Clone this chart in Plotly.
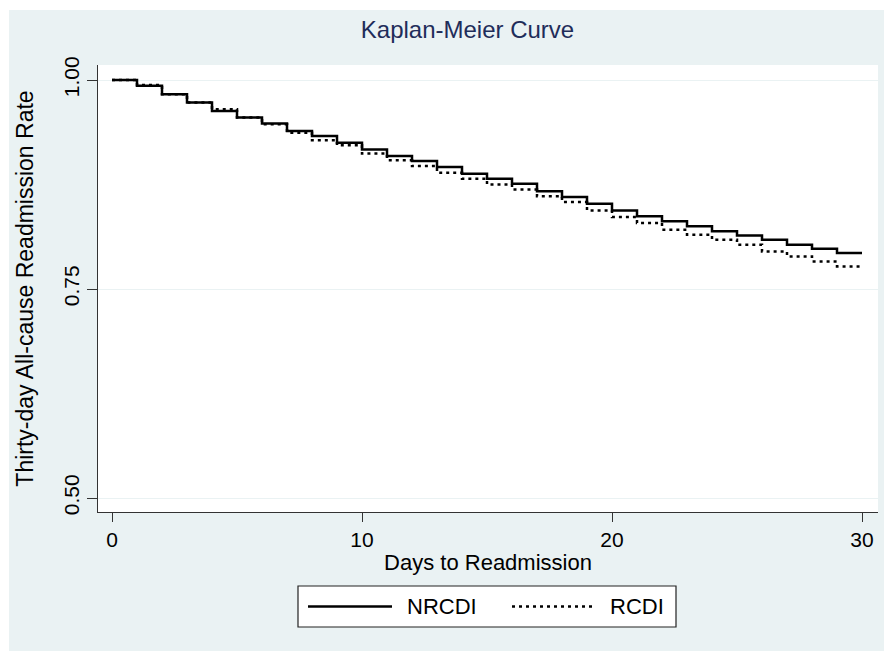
import plotly.graph_objects as go

days = list(range(0, 31))
nrcdi = [1.000, 0.993, 0.983, 0.973, 0.963, 0.955, 0.948, 0.939, 0.933, 0.925,
         0.917, 0.909, 0.903, 0.896, 0.888, 0.882, 0.876, 0.867, 0.860, 0.852,
         0.844, 0.837, 0.831, 0.825, 0.819, 0.814, 0.809, 0.803, 0.798, 0.793]
rcdi = [1.000, 0.994, 0.983, 0.973, 0.965, 0.955, 0.947, 0.937, 0.928, 0.922,
        0.912, 0.904, 0.897, 0.889, 0.882, 0.875, 0.869, 0.861, 0.854, 0.844,
        0.836, 0.829, 0.821, 0.815, 0.809, 0.803, 0.795, 0.789, 0.783, 0.777]
x_ticks = [0, 10, 20, 30]
y_ticks = [0.50, 0.75, 1.00]
y_tick_labels = ["0.50", "0.75", "1.00"]
series_names = ["NRCDI", "RCDI"]

BG = "#EAF2F3"
FONT = "Liberation Sans, Arial, sans-serif"
DOT = "3px,4px"

W, H = 884, 651
ML, MR, MT, MB = 98, 6, 65, 139
PW, PH = W - ML - MR, H - MT - MB


def px_x(p):
    return (p - ML) / PW


def px_y(p):
    return (H - MB - p) / PH


fig = go.Figure()
fig.add_trace(go.Scatter(x=days, y=nrcdi + [nrcdi[-1]], mode="lines", line_shape="hv",
                         line=dict(color="black", width=2.5), name=series_names[0]))
fig.add_trace(go.Scatter(x=days, y=rcdi + [rcdi[-1]], mode="lines", line_shape="hv",
                         line=dict(color="black", width=2.5, dash=DOT), name=series_names[1]))

shapes = [
    # white outer border (top and left)
    dict(type="rect", xref="paper", yref="paper", x0=px_x(0), x1=px_x(W), y0=px_y(0), y1=px_y(10),
         fillcolor="white", line=dict(width=0), layer="above"),
    dict(type="rect", xref="paper", yref="paper", x0=px_x(0), x1=px_x(9), y0=px_y(H), y1=px_y(0),
         fillcolor="white", line=dict(width=0), layer="above"),
    # legend box
    dict(type="rect", xref="paper", yref="paper", x0=px_x(298), x1=px_x(676), y0=px_y(627), y1=px_y(586),
         fillcolor="white", line=dict(color="#222222", width=1.2)),
    dict(type="line", xref="paper", yref="paper", x0=px_x(308), x1=px_x(392), y0=px_y(606.5), y1=px_y(606.5),
         line=dict(color="black", width=2.5)),
    dict(type="line", xref="paper", yref="paper", x0=px_x(512), x1=px_x(594), y0=px_y(606.5), y1=px_y(606.5),
         line=dict(color="black", width=2.5, dash=DOT)),
]

annotations = [
    dict(text=series_names[0], xref="paper", yref="paper", x=px_x(405), y=px_y(606.5),
         xanchor="left", yanchor="middle", showarrow=False, font=dict(size=22, color="black", family=FONT)),
    dict(text=series_names[1], xref="paper", yref="paper", x=px_x(608), y=px_y(606.5),
         xanchor="left", yanchor="middle", showarrow=False, font=dict(size=22, color="black", family=FONT)),
]

fig.update_layout(
    width=W, height=H,
    margin=dict(l=ML, r=MR, t=MT, b=MB, pad=0),
    paper_bgcolor=BG, plot_bgcolor="white",
    showlegend=False,
    font=dict(family=FONT, size=20, color="black"),
    title=dict(text="Kaplan-Meier Curve", x=px_x(467.5), xref="paper", xanchor="center",
               y=1 - 30 / H, yref="container", yanchor="middle",
               font=dict(size=24, color="#1f2d5a", family=FONT)),
    shapes=shapes,
    annotations=annotations,
)

fig.update_xaxes(
    range=[-0.56, 30.64], tickvals=x_ticks, ticktext=[str(v) for v in x_ticks],
    showgrid=False, zeroline=False,
    showline=True, linecolor="#333333", linewidth=1.2,
    ticks="outside", ticklen=9, tickwidth=1.2, tickcolor="#333333",
    tickfont=dict(size=21, color="black"),
    title=dict(text="Days to Readmission", font=dict(size=22, color="black"), standoff=4),
    automargin=False,
)
fig.update_yaxes(
    range=[0.48325, 1.01794], tickvals=y_ticks, ticktext=y_tick_labels, tickangle=-90,
    showgrid=True, gridcolor=BG, gridwidth=1.2, zeroline=False,
    showline=True, linecolor="#333333", linewidth=1.2,
    ticks="outside", ticklen=10, tickwidth=1.2, tickcolor="#333333",
    tickfont=dict(size=21, color="black"),
    title=dict(text="Thirty-day All-cause Readmission Rate", font=dict(size=23, color="black"), standoff=19),
    automargin=False,
)

fig.write_html("out.html", config={"displayModeBar": False},
               post_script="document.body.style.margin='0';document.body.style.overflow='hidden';")
